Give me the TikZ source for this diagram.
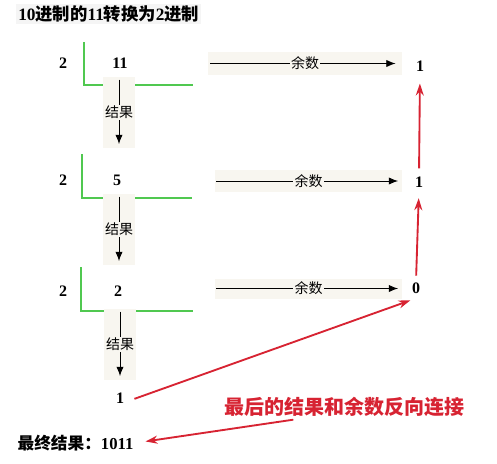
\documentclass[tikz,border=0pt]{standalone}
\usepackage{fontspec}
\setmainfont{Liberation Serif}
\newfontfamily\cjk{Noto Sans CJK SC}
\usetikzlibrary{arrows.meta}

\definecolor{boxbg}{RGB}{248,246,240}
\definecolor{titlebg}{RGB}{245,245,245}
\definecolor{bracketgreen}{RGB}{80,200,80}
\definecolor{notered}{RGB}{215,35,50}

\begin{document}
\begin{tikzpicture}[x=0.75pt,y=-0.75pt,
  num/.style={font=\bfseries\fontsize{12}{14}\selectfont, inner sep=1pt},
  lbl/.style={font=\cjk\fontsize{10.5}{12}\selectfont, fill=boxbg, inner sep=1pt},
  bgbox/.style={fill=boxbg, draw=none, inner sep=0pt},
  arr/.style={-{Latex[length=7pt,width=5.5pt]}, line width=0.7pt},
  bracket/.style={draw=bracketgreen, line width=0.8pt},
  redarr/.style={draw=notered, line width=1.4pt, -{Stealth[length=9pt,width=6pt]}}]
  \useasboundingbox (0,0) rectangle (497,464);

  % Title
  \node[anchor=west, fill=titlebg, inner sep=1.5pt, font=\bfseries\fontsize{13}{15}\selectfont] (title) at (16,14)
    {10{\cjk\bfseries 进制的}11{\cjk\bfseries 转换为}2{\cjk\bfseries 进制}};

  % Green brackets
  \draw[bracket] (84,42) -- (84,85) -- (193,85);
  \draw[bracket] (82,154) -- (82,198) -- (192,198);
  \draw[bracket] (81,267) -- (81,311) -- (193,311);

  % Divisors
  \node[num] (d1) at (63,63) {2};
  \node[num] (d2) at (63,180) {2};
  \node[num] (d3) at (63,291) {2};

  % Quotients
  \node[num] (q1) at (120,63) {11};
  \node[num] (q2) at (117,180) {5};
  \node[num] (q3) at (118,291) {2};
  \node[num] (q4) at (120,398) {1};

  % Remainders
  \node[num] (r1) at (420,66) {1};
  \node[num] (r2) at (419,182) {1};
  \node[num] (r3) at (416,288) {0};

  % Result arrows (down)
  \node[bgbox, minimum width=24pt, minimum height=53pt] (rb1) at (119,112.5) {};
  \node[bgbox, minimum width=24pt, minimum height=53pt] (rb2) at (119,229.5) {};
  \node[bgbox, minimum width=24pt, minimum height=53pt] (rb3) at (120,344.5) {};
  \draw[arr, shorten <=2pt, shorten >=3pt] (rb1.north) -- (rb1.south) node[midway, lbl] {结果};
  \draw[arr, shorten <=2pt, shorten >=3pt] (rb2.north) -- (rb2.south) node[midway, lbl] {结果};
  \draw[arr, shorten <=2pt, shorten >=3pt] (rb3.north) -- (rb3.south) node[midway, lbl] {结果};

  % Remainder arrows (right)
  \node[bgbox, minimum width=145.5pt, minimum height=17pt] (sb1) at (305,63.5) {};
  \node[bgbox, minimum width=140pt, minimum height=17pt] (sb2) at (308.5,181) {};
  \node[bgbox, minimum width=140pt, minimum height=15pt] (sb3) at (308.5,288.5) {};
  \draw[arr, shorten <=2pt, shorten >=5pt] (sb1.west) -- (sb1.east) node[midway, lbl] {余数};
  \draw[arr, shorten <=1pt, shorten >=3pt] (sb2.west) -- (sb2.east) node[midway, lbl] {余数};
  \draw[arr, shorten <=1pt, shorten >=3pt] (sb3.west) -- (sb3.east) node[midway, lbl] {余数};

  % Red connections
  \draw[redarr, shorten <=5pt, shorten >=8pt] (r2.north) -- (r1.south);
  \draw[redarr, shorten <=4pt, shorten >=7pt] (r3.north) -- (r2.south);
  \draw[redarr, shorten <=7pt] ([yshift=-3pt]q4.east) -- ([yshift=-4pt]r3.south west);

  % Note and final result
  \node[text=notered, font=\cjk\bfseries\fontsize{15}{17}\selectfont, inner sep=1pt] (note) at (344,407)
    {最后的结果和余数反向连接};
  \node[anchor=west, inner sep=1pt, font=\bfseries\fontsize{12.5}{14}\selectfont] (final) at (16,443)
    {{\cjk\bfseries 最终结果：}1011};
  \draw[redarr, shorten >=8pt] ([xshift=-38pt,yshift=-1pt]note.south) -- (final.east);
\end{tikzpicture}
\end{document}
